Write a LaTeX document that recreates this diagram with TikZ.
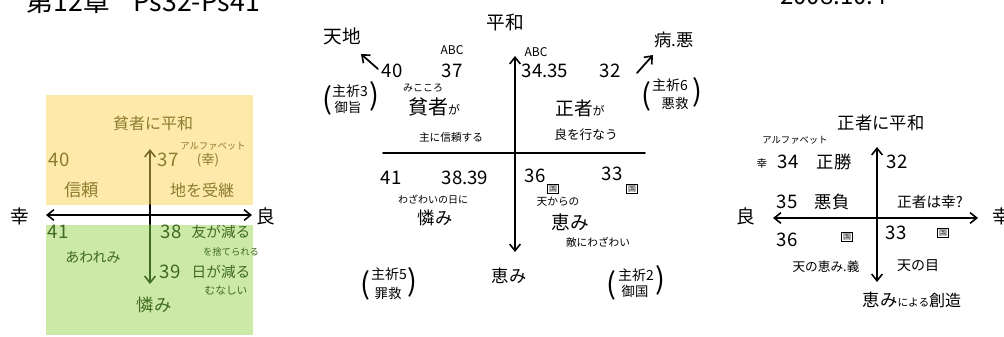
\documentclass[tikz,border=0pt]{standalone}
\usepackage{fontspec}
\newfontfamily\jp{Noto Sans CJK JP}
\usetikzlibrary{arrows.meta}
\definecolor{yelfill}{HTML}{FDE9A9}
\definecolor{grnfill}{HTML}{CDE9A8}
\definecolor{oltext}{HTML}{8C7C30}
\definecolor{gntext}{HTML}{3E6B1F}
\tikzset{
  fs/.style={font=\jp\fontsize{#1}{#1}\selectfont},
  lbl/.style={inner sep=0pt},
  boxed/.style={draw, line width=0.8pt, inner sep=0.8pt, font=\jp\fontsize{6}{6}\selectfont},
  axis/.style={line width=1.3pt, line cap=round},
  tip/.style={-{Straight Barb[length=5pt,width=8pt,line width=1.2pt]}},
  dtip/.style={{Straight Barb[length=5pt,width=8pt,line width=1.2pt]}-{Straight Barb[length=5pt,width=8pt,line width=1.2pt]}},
  paren/.style={fs=22, inner sep=0pt},
}
\begin{document}
\begin{tikzpicture}[x=0.75pt,y=-0.75pt]
\useasboundingbox (0,0) rectangle (1004,336);
\clip (0,0) rectangle (1004,336);
\fill[white] (0,0) rectangle (1004,336);

% ---------- titles (cut off at the top) ----------
\node[fs=20, anchor=base east, lbl] (title1) at (110,11) {第12章};
\node[fs=20, anchor=base west, lbl] (title2) at (133,11) {Ps32-Ps41};
\node[fs=18, anchor=base west, lbl] (date) at (780,4) {2008.10.4};

% ---------- panel 1 ----------
\fill[yelfill] (46,95) rectangle (253,205);
\fill[grnfill] (46,225) rectangle (253,335);
\coordinate (p1l) at (46,215);
\coordinate (p1r) at (252,215);
\coordinate (p1c) at (150,215);
\coordinate (p1t) at (150,149);
\coordinate (p1b) at (150,284);
\coordinate (p1ya) at (150,205);
\coordinate (p1ga) at (150,225);
\draw[axis, dtip] (p1l) -- (p1r);
\draw[axis, tip, oltext!85!black] (p1ya) -- (p1t);
\draw[axis, black] (p1ya) -- (p1ga);
\draw[axis, tip, gntext] (p1ga) -- (p1b);
\node[fs=14, lbl] (k1) at (20,216) {幸};
\node[fs=14, lbl] (r1) at (266,216) {良};

\begin{scope}[text=oltext]
\node[fs=12, lbl] (a1) at (153,123) {貧者に平和};
\node[fs=7, lbl] (a2) at (213,146) {アルファベット};
\node[fs=14, lbl] (a3) at (59,160) {40};
\node[fs=14, lbl] (a4) at (168,160) {37};
\node[fs=10, lbl] (a5) at (208,160) {(幸)};
\node[fs=13, lbl] (a6) at (82,190) {信頼};
\node[fs=12, lbl] (a7) at (202,190) {地を受継};
\end{scope}
\begin{scope}[text=gntext]
\node[fs=14, lbl] (b1) at (58,232) {41};
\node[fs=10.5, lbl] (b2) at (93,257) {あわれみ};
\node[fs=14, lbl] (b3) at (171,232) {38};
\node[fs=11, lbl] (b4) at (221,232) {友が減る};
\node[fs=7, lbl] (b5) at (231,252) {を捨てられる};
\node[fs=14, lbl] (b6) at (170,272) {39};
\node[fs=11, lbl] (b7) at (221,272) {日が減る};
\node[fs=8, lbl] (b8) at (226,290) {むなしい};
\node[fs=13, lbl] (b9) at (154,305) {憐み};
\end{scope}

% ---------- panel 2 ----------
\coordinate (p2t) at (515,56);
\coordinate (p2b) at (515,252);
\coordinate (p2l) at (383,153);
\coordinate (p2r) at (645,153);
\draw[axis, dtip] (p2t) -- (p2b);
\draw[axis] (p2l) -- (p2r);
\node[fs=14, lbl] (c0) at (505,22) {平和};
\node[fs=14, lbl] (c1) at (342,36) {天地};
\coordinate (c1s) at (378,69);
\coordinate (c1e) at (361,54);
\draw[axis, tip] (c1s) -- (c1e);
\node[fs=14, lbl] (c2) at (392,71) {40};
\node[fs=9, lbl] (c3) at (452,50) {ABC};
\node[fs=14, lbl] (c4) at (452,71) {37};
\node[fs=7.5, lbl] (c5) at (423,88) {みこころ};
\node[fs=15, lbl, anchor=base] (c6) at (434,114) {貧者\fontsize{9}{9}\selectfont が};
\node[fs=8, lbl] (c7) at (451,137) {主に信頼する};
\node[fs=10.5, lbl] (c8) at (350,91) {主祈3};
\node[fs=10, lbl] (c9) at (348,107) {御旨};
\node[paren] (c8l) at (327,100) {(};
\node[paren] (c8r) at (374,96) {)};

\node[fs=9, lbl] (d1) at (536,52) {ABC};
\node[fs=14, lbl] (d2) at (545,71) {34.35};
\node[fs=14, lbl] (d3) at (610,71) {32};
\coordinate (d4s) at (637,73);
\coordinate (d4e) at (653,55);
\draw[axis, tip] (d4s) -- (d4e);
\node[fs=13, lbl] (d5) at (674,40) {病.悪};
\node[fs=10.5, lbl] (d6) at (670,85) {主祈6};
\node[fs=10, lbl] (d7) at (675,103) {悪救};
\node[paren] (d6l) at (646,96) {(};
\node[paren] (d6r) at (697,92) {)};
\node[fs=14, lbl, anchor=base] (d8) at (580,115) {正者\fontsize{9}{9}\selectfont が};
\node[fs=9.5, lbl] (d9) at (586,135) {良を行なう};

\node[fs=14, lbl] (e1) at (391,178) {41};
\node[fs=14, lbl] (e2) at (465,178) {38.39};
\node[fs=7.5, lbl] (e3) at (433,200) {わざわいの日に};
\node[fs=13, lbl] (e4) at (435,218) {憐み};
\node[fs=10.5, lbl] (e5) at (389,274) {主祈5};
\node[fs=10, lbl] (e6) at (388,293) {罪救};
\node[paren] (e5l) at (365,285) {(};
\node[paren] (e5r) at (412,282) {)};
\node[fs=13, lbl] (e7) at (509,276) {恵み};

\node[fs=14, lbl] (f1) at (535,176) {36};
\node[boxed] (f2) at (553,189) {国};
\node[fs=8, lbl] (f3) at (558,202) {天からの};
\node[fs=14, lbl] (f4) at (570,222) {恵み};
\node[fs=8, lbl] (f5) at (598,242) {敵にわざわい};
\node[fs=14, lbl] (f6) at (612,174) {33};
\node[boxed] (f7) at (632,189) {国};
\node[fs=10.5, lbl] (f8) at (636,275) {主祈2};
\node[fs=10, lbl] (f9) at (635,291) {御国};
\node[paren] (f8l) at (611,285) {(};
\node[paren] (f8r) at (660,280) {)};

% ---------- panel 3 ----------
\coordinate (p3l) at (773,218);
\coordinate (p3r) at (978,218);
\coordinate (p3t) at (877,147);
\coordinate (p3b) at (877,282);
\draw[axis, dtip] (p3l) -- (p3r);
\draw[axis, dtip] (p3t) -- (p3b);
\node[fs=14, lbl] (r3) at (746,216) {良};
\node[fs=14, lbl] (k3) at (1002,216) {幸};
\node[fs=13, lbl] (g1) at (881,123) {正者に平和};
\node[fs=7, lbl] (g2) at (795,140) {アルファベット};
\node[fs=8, lbl] (g3) at (762,163) {幸};
\node[fs=14, lbl] (g4) at (788,162) {34};
\node[fs=13, lbl] (g5) at (834,162) {正勝};
\node[fs=14, lbl] (g6) at (897,162) {32};
\node[fs=14, lbl] (g7) at (787,202) {35};
\node[fs=13, lbl] (g8) at (832,202) {悪負};
\node[fs=11, lbl] (g9) at (930,202) {正者は幸?};
\node[fs=14, lbl] (h1) at (787,240) {36};
\node[boxed] (h2) at (847,237) {国};
\node[fs=14, lbl] (h3) at (896,233) {33};
\node[boxed] (h4) at (943,233) {国};
\node[fs=9.5, lbl] (h5) at (826,267) {天の恵み.義};
\node[fs=10.5, lbl] (h6) at (918,266) {天の目};
\node[fs=13, lbl, anchor=base] (h7) at (912,306) {恵み\fontsize{8}{8}\selectfont による\fontsize{12}{12}\selectfont 創造};
\end{tikzpicture}
\end{document}
